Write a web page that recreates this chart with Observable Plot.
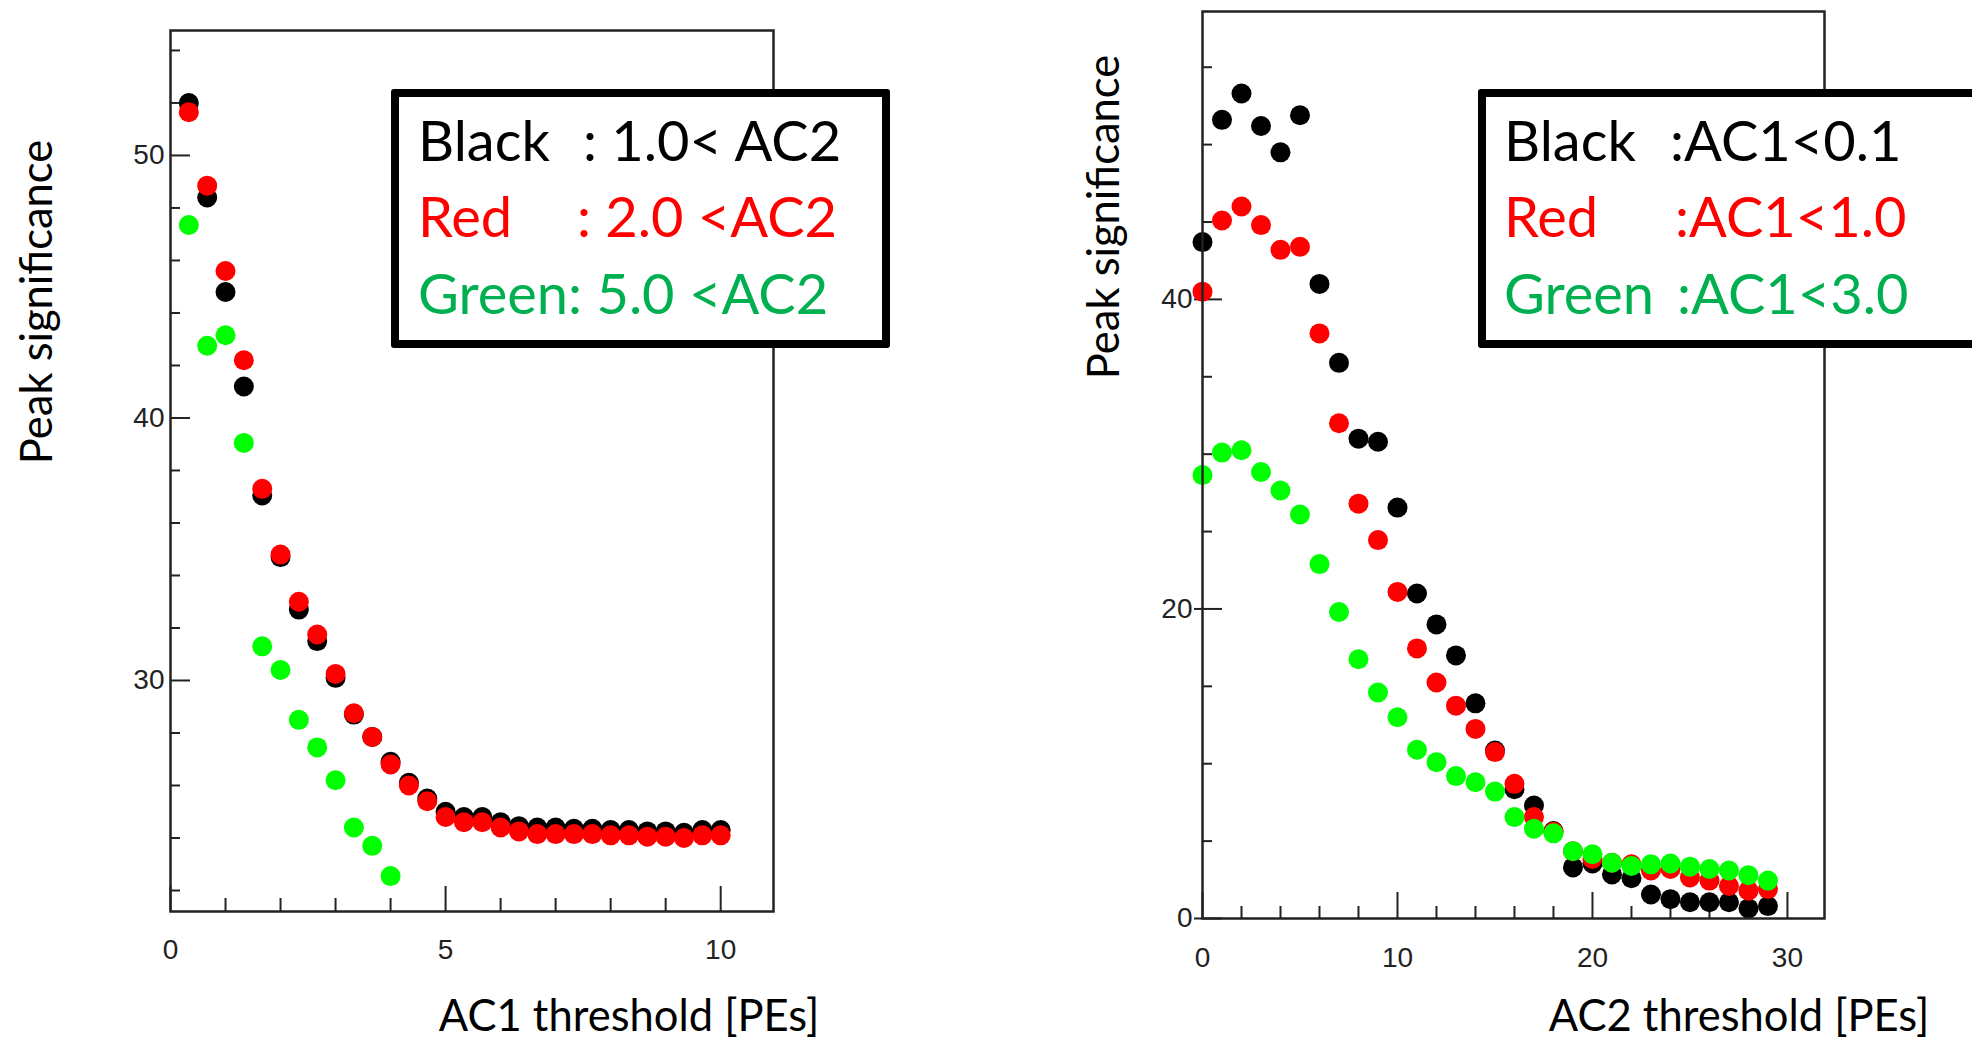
<!DOCTYPE html>
<html>
<head>
<meta charset="utf-8">
<script src="https://cdn.jsdelivr.net/npm/d3@7"></script>
<script src="https://cdn.jsdelivr.net/npm/@observablehq/plot@0.6"></script>
<style>
  html, body { margin: 0; padding: 0; width: 1972px; height: 1043px; overflow: hidden; background: #fff; }
  #stage { position: relative; width: 1972px; height: 1043px; overflow: hidden; background: #fff; }
  #stage svg { position: absolute; top: 0; }
  .title { position: absolute; font-family: Lato, "Open Sans", sans-serif; font-size: 43.5px; line-height: 1.25; white-space: nowrap; color: #000; transform: translate(-50%, -50%); }
  .ytitle { transform: translate(-50%, -50%) rotate(-90deg); }
  .legbox { position: absolute; border: 8px solid #000; box-sizing: border-box; border-radius: 3px; background: #fff; }
  .leg { position: absolute; font-family: Lato, "Open Sans", sans-serif; font-size: 56px; line-height: 76px; white-space: pre; }
</style>
</head>
<body>
<div id="stage"></div>
<script>
// ---------------- Data ----------------
// Left panel: AC1 threshold scan
const ac1Threshold = [0.333, 0.667, 1.0, 1.333, 1.667, 2.0, 2.333, 2.667, 3.0, 3.333,
                      3.667, 4.0, 4.333, 4.667, 5.0, 5.333, 5.667, 6.0, 6.333, 6.667,
                      7.0, 7.333, 7.667, 8.0, 8.333, 8.667, 9.0, 9.333, 9.667, 10.0];
const leftBlack = [52.0, 48.4, 44.8, 41.2, 37.05, 34.7, 32.7, 31.5, 30.1, 28.7,
                   27.85, 26.9, 26.1, 25.5, 25.0, 24.8, 24.8, 24.6, 24.45, 24.4,
                   24.4, 24.35, 24.35, 24.3, 24.3, 24.25, 24.25, 24.2, 24.3, 24.3];
const leftRed = [51.65, 48.85, 45.6, 42.2, 37.3, 34.8, 33.0, 31.75, 30.25, 28.75,
                 27.85, 26.8, 26.0, 25.4, 24.8, 24.6, 24.6, 24.4, 24.25, 24.15,
                 24.15, 24.15, 24.15, 24.1, 24.1, 24.05, 24.05, 24.0, 24.1, 24.1];
const leftGreen = [47.35, 42.75, 43.15, 39.05, 31.3, 30.4, 28.5, 27.45, 26.2, 24.4,
                   23.7, 22.55];

// Right panel: AC2 threshold scan
const ac2Threshold = [0, 1, 2, 3, 4, 5, 6, 7, 8, 9, 10, 11, 12, 13, 14,
                      15, 16, 17, 18, 19, 20, 21, 22, 23, 24, 25, 26, 27, 28, 29];
const rightBlack = [43.7, 51.6, 53.3, 51.2, 49.5, 51.9, 41.0, 35.9, 31.0, 30.8,
                    26.55, 21.0, 19.0, 17.0, 13.9, 10.85, 8.35, 7.3, 5.65, 3.3,
                    3.55, 2.85, 2.6, 1.55, 1.25, 1.05, 1.05, 1.05, 0.65, 0.8];
const rightRed = [40.5, 45.1, 46.0, 44.8, 43.2, 43.4, 37.8, 32.0, 26.8, 24.45,
                  21.1, 17.45, 15.25, 13.75, 12.25, 10.75, 8.7, 6.55, 5.6, 4.35,
                  3.85, 3.6, 3.5, 3.1, 3.2, 2.65, 2.45, 2.1, 1.8, 1.9];
const rightGreen = [28.65, 30.1, 30.25, 28.85, 27.65, 26.1, 22.9, 19.8, 16.75, 14.6,
                    13.0, 10.9, 10.1, 9.2, 8.8, 8.2, 6.55, 5.8, 5.5, 4.35,
                    4.15, 3.6, 3.4, 3.5, 3.55, 3.35, 3.2, 3.1, 2.8, 2.45];

// Axis ticks
const leftXMajor = [0, 5, 10];
const leftXMinor = [1, 2, 3, 4, 6, 7, 8, 9];
const leftYMajor = [30, 40, 50];
const leftYMinor = [22, 24, 26, 28, 32, 34, 36, 38, 42, 44, 46, 48, 52, 54];
const rightXMajor = [0, 10, 20, 30];
const rightXMinor = [2, 4, 6, 8, 12, 14, 16, 18, 22, 24, 26, 28];
const rightYMajor = [0, 20, 40];
const rightYMinor = [5, 10, 15, 25, 30, 35, 45, 50, 55];

// Text
const leftXTitle = "AC1 threshold [PEs]";
const rightXTitle = "AC2 threshold [PEs]";
const yTitle = "Peak significance";
const leftLegend = [
  {name: "Black", rest: ": 1.0< AC2", color: "#000000"},
  {name: "Red", rest: ": 2.0 <AC2", color: "#ff0000"},
  {name: "Green: 5.0 <AC2", rest: "", color: "#00b050"}
];
const rightLegend = [
  {name: "Black", rest: ":AC1<0.1", color: "#000000"},
  {name: "Red", rest: ":AC1<1.0", color: "#ff0000"},
  {name: "Green", rest: ":AC1<3.0", color: "#00b050"}
];
const seriesColors = {black: "#000000", red: "#ff0000", green: "#00ff00"};

// ---------------- Build ----------------
const stage = document.getElementById("stage");
const toRows = (xs, ys) => ys.map((y, i) => ({x: xs[i], y}));
const axisColor = "#222";
const baseStyle = {background: "transparent", fontFamily: "'Liberation Sans', Arial, sans-serif", fontSize: "28px", color: axisColor, overflow: "visible"};

function panel({width, height, mL, mR, mT, mB, xDomain, yDomain, xMaj, xMin, yMaj, yMin,
                xMajLen, xMinLen, yMajLen, yMinLen, yMajOut, yPad, xPad, series}) {
  const pw = width - mL - mR, ph = height - mT - mB;
  const tick = {stroke: axisColor, strokeWidth: 2};
  return Plot.plot({
    width, height,
    marginLeft: mL, marginRight: mR, marginTop: mT, marginBottom: mB,
    x: {domain: xDomain},
    y: {domain: yDomain},
    style: baseStyle,
    marks: [
      Plot.tickY(yMin, {y: d => d, insetRight: pw - yMinLen, ...tick}),
      Plot.tickY(yMaj, {y: d => d, insetLeft: -yMajOut, insetRight: pw - yMajLen, ...tick}),
      Plot.tickX(xMin, {x: d => d, insetTop: ph - xMinLen, ...tick}),
      Plot.tickX(xMaj, {x: d => d, insetTop: ph - xMajLen, ...tick}),
      Plot.axisY({ticks: yMaj, tickSize: 0, tickPadding: yPad, label: null, fontSize: 28}),
      Plot.axisX({ticks: xMaj, tickSize: 0, tickPadding: xPad, label: null, fontSize: 28}),
      ...series.map(s => Plot.dot(s.rows, {x: "x", y: "y", r: 10, fill: s.color, stroke: null})),
      Plot.frame({stroke: axisColor, strokeWidth: 2.5})
    ]
  });
}

const leftSvg = panel({
  width: 900, height: 1043, mL: 170, mR: 127, mT: 30, mB: 132,
  xDomain: [0, 10.96], yDomain: [21.2, 54.76],
  xMaj: leftXMajor, xMin: leftXMinor, yMaj: leftYMajor, yMin: leftYMinor,
  xMajLen: 25, xMinLen: 13, yMajLen: 20, yMinLen: 10, yMajOut: 0, yPad: 6, xPad: 28,
  series: [
    {rows: toRows(ac1Threshold, leftBlack), color: seriesColors.black},
    {rows: toRows(ac1Threshold, leftRed), color: seriesColors.red},
    {rows: toRows(ac1Threshold, leftGreen), color: seriesColors.green}
  ]
});
leftSvg.style.left = "0px";
stage.appendChild(leftSvg);

const rightSvg = panel({
  width: 972, height: 1043, mL: 202, mR: 148, mT: 11, mB: 125,
  xDomain: [0, 31.9], yDomain: [0, 58.6],
  xMaj: rightXMajor, xMin: rightXMinor, yMaj: rightYMajor, yMin: rightYMinor,
  xMajLen: 26, xMinLen: 12, yMajLen: 20, yMinLen: 10, yMajOut: 8, yPad: 10, xPad: 29,
  series: [
    {rows: toRows(ac2Threshold, rightBlack), color: seriesColors.black},
    {rows: toRows(ac2Threshold, rightRed), color: seriesColors.red},
    {rows: toRows(ac2Threshold, rightGreen), color: seriesColors.green}
  ]
});
rightSvg.style.left = "1000px";
stage.appendChild(rightSvg);

// Titles
function addTitle(text, cx, cy, rotate) {
  const d = document.createElement("div");
  d.className = "title" + (rotate ? " ytitle" : "");
  d.textContent = text;
  d.style.left = cx + "px";
  d.style.top = cy + "px";
  stage.appendChild(d);
}
addTitle(yTitle, 35, 302, true);
addTitle(yTitle, 1102, 217, true);
addTitle(leftXTitle, 629, 1014, false);
addTitle(rightXTitle, 1739, 1014, false);

// Legends
const legFont = 56, legLine = 76;
const legOffset = (legLine - 1.2 * legFont) / 2 + 0.987 * legFont;
function addLegend(box, entries, x0, restX, baselines) {
  const b = document.createElement("div");
  b.className = "legbox";
  Object.assign(b.style, {left: box.left + "px", top: box.top + "px", width: box.width + "px", height: box.height + "px"});
  stage.appendChild(b);
  entries.forEach((e, i) => {
    const top = baselines[i] - legOffset;
    const n = document.createElement("div");
    n.className = "leg";
    n.textContent = e.name;
    Object.assign(n.style, {left: x0 + "px", top: top + "px", color: e.color});
    stage.appendChild(n);
    if (e.rest) {
      const r = document.createElement("div");
      r.className = "leg";
      r.textContent = e.rest;
      Object.assign(r.style, {left: restX[i] + "px", top: top + "px", color: e.color});
      stage.appendChild(r);
    }
  });
}
addLegend({left: 391, top: 89, width: 499, height: 259}, leftLegend, 418, [583, 577, 0], [162, 238, 315]);
addLegend({left: 1478, top: 89, width: 560, height: 259}, rightLegend, 1504, [1670, 1675, 1677], [162, 238, 315]);
</script>
</body>
</html>
